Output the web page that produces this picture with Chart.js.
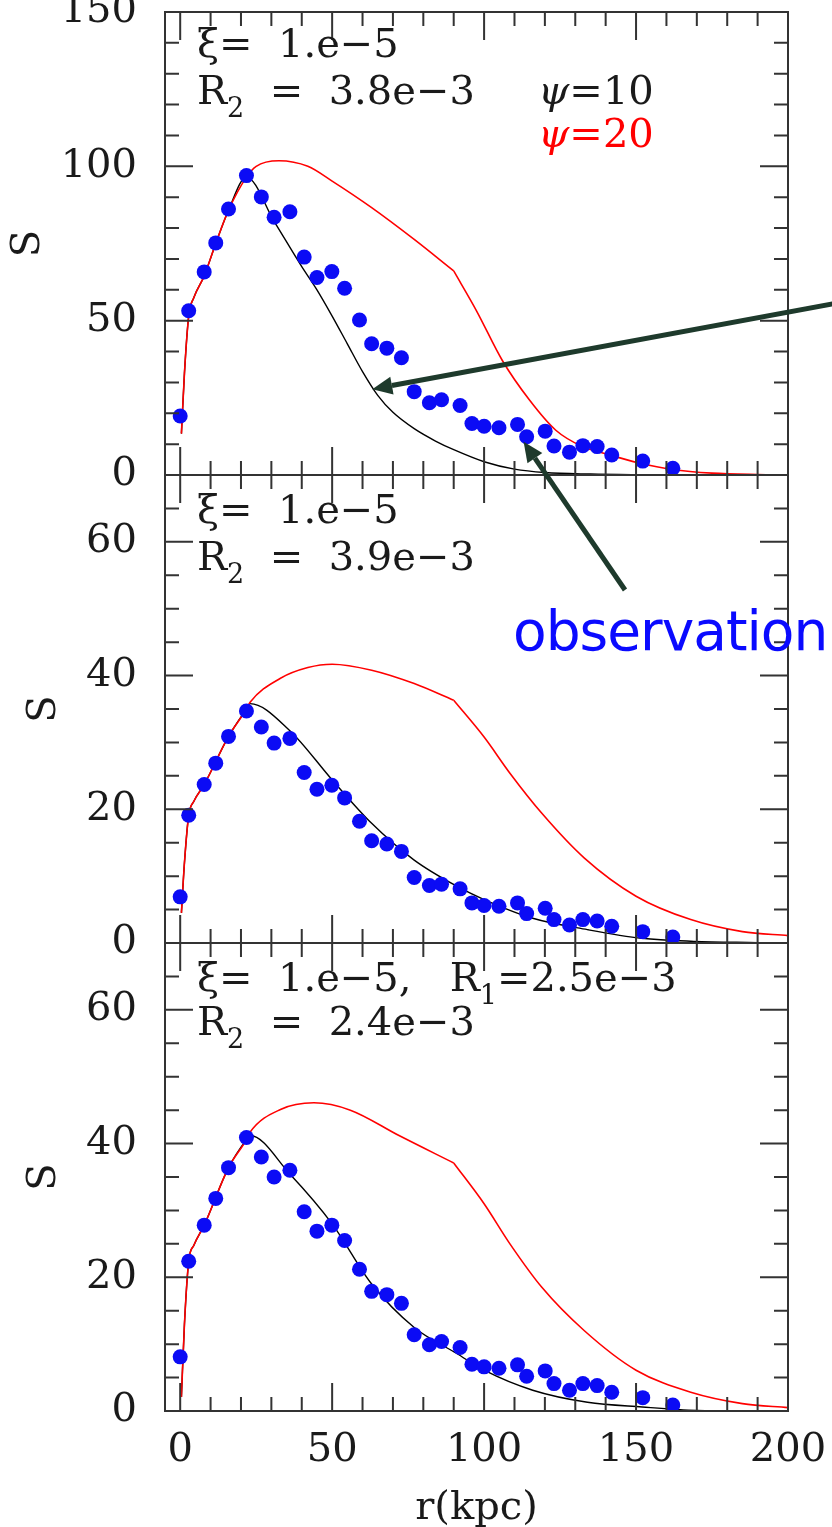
<!DOCTYPE html>
<html lang="en">
<head>
<meta charset="UTF-8">
<title>S(r) profiles</title>
<script src="https://cdn.jsdelivr.net/npm/chart.js"></script>
<style>
  html, body { margin: 0; padding: 0; overflow: hidden; background: #fff; }
  body { width: 832px; height: 1527px; position: relative; }
  canvas { position: absolute; left: 0; top: -40px; }
  #c1 { z-index: 3; }
</style>
</head>
<body>
<canvas id="c1" width="832" height="1607"></canvas>
<canvas id="c2" width="832" height="1607"></canvas>
<canvas id="c3" width="832" height="1607"></canvas>
<script>
// observed radii (same for all panels), kpc
const rObs = [0, 2.8, 7.9, 11.7, 15.9, 21.8, 26.7, 30.9, 36.1, 40.8, 45.0, 49.9, 54.1, 59.0, 63.0, 68.0, 72.8,
  77.0, 82.0, 86.0, 92.1, 96.0, 100.0, 104.9, 111.0, 114.0, 120.1, 123.0, 128.1, 132.5, 137.2, 142.0, 152.2, 162.1];

const sObsTop = [19.1, 53.2, 65.8, 75.2, 86.2, 97.0, 90.1, 83.5, 85.3, 70.6, 64.0, 65.9, 60.5, 50.2, 42.5, 41.1, 38.0,
  27.0, 23.4, 24.4, 22.5, 16.7, 15.8, 15.3, 16.4, 12.4, 14.2, 9.4, 7.4, 9.5, 9.2, 6.5, 4.5, 2.2];
const sObsMid = [6.9, 19.1, 23.7, 26.9, 30.9, 34.7, 32.3, 29.9, 30.6, 25.5, 23.0, 23.6, 21.7, 18.2, 15.3, 14.8, 13.7,
  9.8, 8.6, 8.8, 8.1, 6.0, 5.6, 5.5, 6.0, 4.4, 5.2, 3.5, 2.7, 3.5, 3.3, 2.5, 1.7, 0.9];
const sObsBot = [8.1, 22.4, 27.8, 31.8, 36.4, 40.9, 38.0, 35.0, 36.0, 29.8, 26.9, 27.8, 25.5, 21.2, 17.9, 17.4, 16.1,
  11.4, 9.9, 10.4, 9.5, 7.0, 6.6, 6.4, 6.9, 5.2, 6.0, 4.1, 3.1, 4.1, 3.8, 2.8, 2.0, 0.9];

// model curves: psi = 20 (red, split at the kink near r = 90) and psi = 10 (black)
const rRedTopIn = [0.4, 1.4, 2.8, 4.5, 7.9, 11.7, 15.9, 21.8, 25, 32.5, 42, 50, 63, 77, 90];
const sRedTopIn = [13.4, 33, 51.5, 57.5, 64.5, 75, 85.8, 96.5, 100, 101.8, 100, 95.2, 86.6, 76.3, 66.1];
const rRedTopOut = [90, 97.5, 106, 115, 123.6, 132, 141, 151, 162, 175, 190, 200];
const sRedTopOut = [66.1, 53.2, 37.1, 24.2, 14.5, 9.4, 6.6, 3.9, 1.8, 0.6, 0.15, 0.05];
const rBlackTop = [0.4, 1.4, 2.8, 4.5, 7.9, 11.7, 15.9, 21.8, 31, 40, 45, 50, 55, 60, 65, 70, 77, 84, 90, 100, 110, 120, 135, 150, 170];
const sBlackTop = [13.4, 33, 51.5, 57.5, 64.5, 75, 85.8, 96.5, 82, 67.5, 60, 51.5, 42.5, 33.5, 25.8, 20.3, 15, 11, 8.2, 4.3, 1.9, 0.8, 0.3, 0.1, 0];

const rRedMidIn = [0.4, 1.4, 2.8, 4.5, 7.9, 15.9, 21.8, 23, 33, 42, 50, 63, 77, 90];
const sRedMidIn = [4.5, 12, 19.1, 21.2, 23.7, 30.9, 35.0, 36.0, 39.6, 41.2, 41.7, 40.8, 38.8, 36.3];
const rRedMidOut = [90, 100, 108.5, 119, 133, 150, 168, 185, 200];
const sRedMidOut = [36.3, 30.8, 25.4, 19.4, 12.7, 7.0, 3.5, 1.7, 1.1];
const rBlackMid = [0.4, 1.4, 2.8, 4.5, 7.9, 15.9, 21.8, 23, 36, 50, 63, 77, 91, 100, 116, 134, 152, 169, 190];
const sBlackMid = [4.5, 12, 19.1, 21.2, 23.7, 30.9, 35.0, 35.8, 31.8, 24.4, 17.9, 12.4, 8.5, 6.5, 3.7, 2.0, 0.7, 0.25, 0.05];

const rRedBotIn = [0.4, 1.4, 2.8, 4.5, 7.9, 15.9, 21.8, 23, 33, 44, 56, 72, 90];
const sRedBotIn = [2.1, 13, 22.4, 24.8, 27.8, 36.4, 40.6, 41.7, 45.1, 46.1, 45.0, 41.2, 37.1];
const rRedBotOut = [90, 100, 108.5, 119, 133, 150, 168, 185, 200];
const sRedBotOut = [37.1, 31.0, 25.0, 18.5, 12.0, 6.1, 2.8, 1.1, 0.5];
const rBlackBot = [0.4, 1.4, 2.8, 4.5, 7.9, 15.9, 21.8, 23, 36, 50, 63, 77, 91, 100, 116, 134, 152, 170, 190];
const sBlackBot = [2.1, 13, 22.4, 24.8, 27.8, 36.4, 40.6, 41.2, 35.5, 28.0, 19.0, 12.5, 8.6, 6.1, 3.1, 1.3, 0.6, 0.1, 0.02];

const xLabels = [0, 50, 100, 150, 200];
const yLabelsTop = [0, 50, 100, 150];
const yLabelsLow = [0, 20, 40, 60];

const SERIF = '"DejaVu Serif", serif';
const INK = '#1a1a1a';
const OFF = 40; // canvases start 40px above the page

function pts(xs, ys) {
  return xs.map((x, i) => ({ x: x, y: ys[i] }));
}

// frame with inward ticks on all four sides, plus text notes
const frameTicks = {
  id: 'frameTicks',
  afterDatasetsDraw(chart, args, opts) {
    const { ctx, chartArea: a, scales: { x, y } } = chart;
    ctx.save();
    ctx.strokeStyle = '#333';
    ctx.lineWidth = 2;
    ctx.beginPath();
    for (let v = 0; v < 200; v += 10) {
      const px = x.getPixelForValue(v);
      const len = v % 50 === 0 ? 28 : 14;
      ctx.moveTo(px, a.bottom); ctx.lineTo(px, a.bottom - len);
      ctx.moveTo(px, a.top); ctx.lineTo(px, a.top + len);
    }
    for (let v = opts.minor; v < opts.max; v += opts.minor) {
      const py = y.getPixelForValue(v);
      const len = v % opts.major === 0 ? 28 : 14;
      ctx.moveTo(a.left, py); ctx.lineTo(a.left + len, py);
      ctx.moveTo(a.right, py); ctx.lineTo(a.right - len, py);
    }
    ctx.stroke();
    ctx.strokeRect(a.left, a.top, a.right - a.left, a.bottom - a.top);
    ctx.restore();
  },
  afterDraw(chart, args, opts) {
    const { ctx, chartArea: a } = chart;
    ctx.save();
    ctx.textBaseline = 'alphabetic';
    (opts.notes || []).forEach(n => {
      let cx = a.left + n.dx;
      const cy = a.top + n.dy;
      ctx.fillStyle = n.color || INK;
      n.runs.forEach(run => {
        const fs = run.sub ? 27 : 40;
        ctx.font = (run.it ? 'italic ' : '') + fs + 'px ' + SERIF;
        ctx.fillText(run.t, cx, cy + (run.sub ? 13 : 0));
        cx += ctx.measureText(run.t).width;
      });
    });
    ctx.restore();
    if (opts.extra) opts.extra(chart);
  }
};

function arrow(ctx, x1, y1, x2, y2) {
  const ang = Math.atan2(y2 - y1, x2 - x1);
  const hl = 20, hw = 9;
  const bx = x2 - hl * Math.cos(ang), by = y2 - hl * Math.sin(ang);
  ctx.beginPath();
  ctx.moveTo(x1, y1);
  ctx.lineTo(bx, by);
  ctx.stroke();
  ctx.beginPath();
  ctx.moveTo(x2, y2);
  ctx.lineTo(bx + hw * Math.sin(ang), by - hw * Math.cos(ang));
  ctx.lineTo(bx - hw * Math.sin(ang), by + hw * Math.cos(ang));
  ctx.closePath();
  ctx.fill();
}

function pointers(chart) {
  const { ctx, scales: { x, y } } = chart;
  ctx.save();
  ctx.strokeStyle = '#1e3a2c';
  ctx.fillStyle = '#1e3a2c';
  ctx.lineWidth = 5;
  arrow(ctx, 850, 300.7 + OFF, x.getPixelForValue(63.2), y.getPixelForValue(27.8));
  arrow(ctx, 625, 590 + OFF, x.getPixelForValue(113), y.getPixelForValue(10.8));
  ctx.fillStyle = '#0a0aff';
  ctx.font = '55px "DejaVu Sans", sans-serif';
  ctx.letterSpacing = '-1px';
  ctx.textBaseline = 'alphabetic';
  ctx.fillText('observation', 513, 650 + OFF);
  ctx.restore();
}

function makePanel(id, o) {
  const red = { borderColor: '#ff0000', borderWidth: 1.6, pointRadius: 0, cubicInterpolationMode: 'monotone' };
  return new Chart(document.getElementById(id), {
    type: 'line',
    data: {
      datasets: [
        { data: pts(rObs, o.obs), showLine: false, pointRadius: 7.5, pointBackgroundColor: '#0b0bf5', pointBorderWidth: 0 },
        Object.assign({ data: pts(o.redInR, o.redInS) }, red),
        Object.assign({ data: pts(o.redOutR, o.redOutS) }, red),
        { data: pts(o.blackR, o.blackS), borderColor: '#000000', borderWidth: 1.4, pointRadius: 0, cubicInterpolationMode: 'monotone' }
      ]
    },
    options: {
      responsive: false,
      animation: false,
      events: [],
      layout: { padding: { left: 0, right: 44, top: o.padTop, bottom: o.padBottom } },
      plugins: {
        legend: { display: false },
        tooltip: { enabled: false },
        frameTicks: { minor: o.yMinor, major: o.yMajor, max: o.yMax, notes: o.notes, extra: o.extra }
      },
      scales: {
        x: {
          type: 'linear', min: -5, max: 200, display: o.showX,
          grid: { display: false, drawTicks: false }, border: { display: false },
          afterBuildTicks: s => { s.ticks = xLabels.map(v => ({ value: v })); },
          afterFit: s => {
            if (!o.showX) return;
            s.height = 130;
            s.paddingLeft = 0;
            s.paddingRight = 0;
          },
          ticks: { padding: 16, color: INK, autoSkip: false, maxRotation: 0, font: { family: SERIF, size: 40 } },
          title: { display: true, text: 'r(kpc)', color: INK, padding: { top: 0, bottom: 8 }, font: { family: SERIF, size: 40 } }
        },
        y: {
          min: 0, max: o.yMax,
          grid: { display: false, drawTicks: false }, border: { display: false },
          afterBuildTicks: s => { s.ticks = o.yLabels.map(v => ({ value: v })); },
          afterFit: s => { s.width = 165; },
          ticks: { padding: 28, color: INK, autoSkip: false, font: { family: SERIF, size: 40 } },
          title: { display: true, text: 'S', color: INK, padding: { top: o.titlePad, bottom: 0 }, font: { family: SERIF, size: 40 } }
        }
      }
    },
    plugins: [frameTicks]
  });
}

makePanel('c1', {
  obs: sObsTop, redInR: rRedTopIn, redInS: sRedTopIn, redOutR: rRedTopOut, redOutS: sRedTopOut,
  blackR: rBlackTop, blackS: sBlackTop,
  yMax: 150, yMinor: 10, yMajor: 50, yLabels: yLabelsTop, showX: false,
  padTop: 50, padBottom: 1092, titlePad: 5,
  notes: [
    { dx: 32, dy: 45, runs: [{ t: 'ξ=  1.e−5' }] },
    { dx: 32, dy: 92, runs: [{ t: 'R' }, { t: '2', sub: true }, { t: '  =  3.8e−3' }] },
    { dx: 373, dy: 92, runs: [{ t: 'ψ', it: true }, { t: '=10' }] },
    { dx: 373, dy: 135, color: '#ff0000', runs: [{ t: 'ψ', it: true }, { t: '=20' }] }
  ],
  extra: pointers
});

makePanel('c2', {
  obs: sObsMid, redInR: rRedMidIn, redInS: sRedMidIn, redOutR: rRedMidOut, redOutS: sRedMidOut,
  blackR: rBlackMid, blackS: sBlackMid,
  yMax: 70, yMinor: 5, yMajor: 20, yLabels: yLabelsLow, showX: false,
  padTop: 515, padBottom: 624, titlePad: 21,
  notes: [
    { dx: 32, dy: 48, runs: [{ t: 'ξ=  1.e−5' }] },
    { dx: 32, dy: 95, runs: [{ t: 'R' }, { t: '2', sub: true }, { t: '  =  3.9e−3' }] }
  ]
});

makePanel('c3', {
  obs: sObsBot, redInR: rRedBotIn, redInS: sRedBotIn, redOutR: rRedBotOut, redOutS: sRedBotOut,
  blackR: rBlackBot, blackS: sBlackBot,
  yMax: 70, yMinor: 5, yMajor: 20, yLabels: yLabelsLow, showX: true,
  padTop: 983, padBottom: 26, titlePad: 21,
  notes: [
    { dx: 32, dy: 48, runs: [{ t: 'ξ=  1.e−5,   R' }, { t: '1', sub: true }, { t: '=2.5e−3' }] },
    { dx: 32, dy: 92, runs: [{ t: 'R' }, { t: '2', sub: true }, { t: '  =  2.4e−3' }] }
  ]
});
</script>
</body>
</html>
